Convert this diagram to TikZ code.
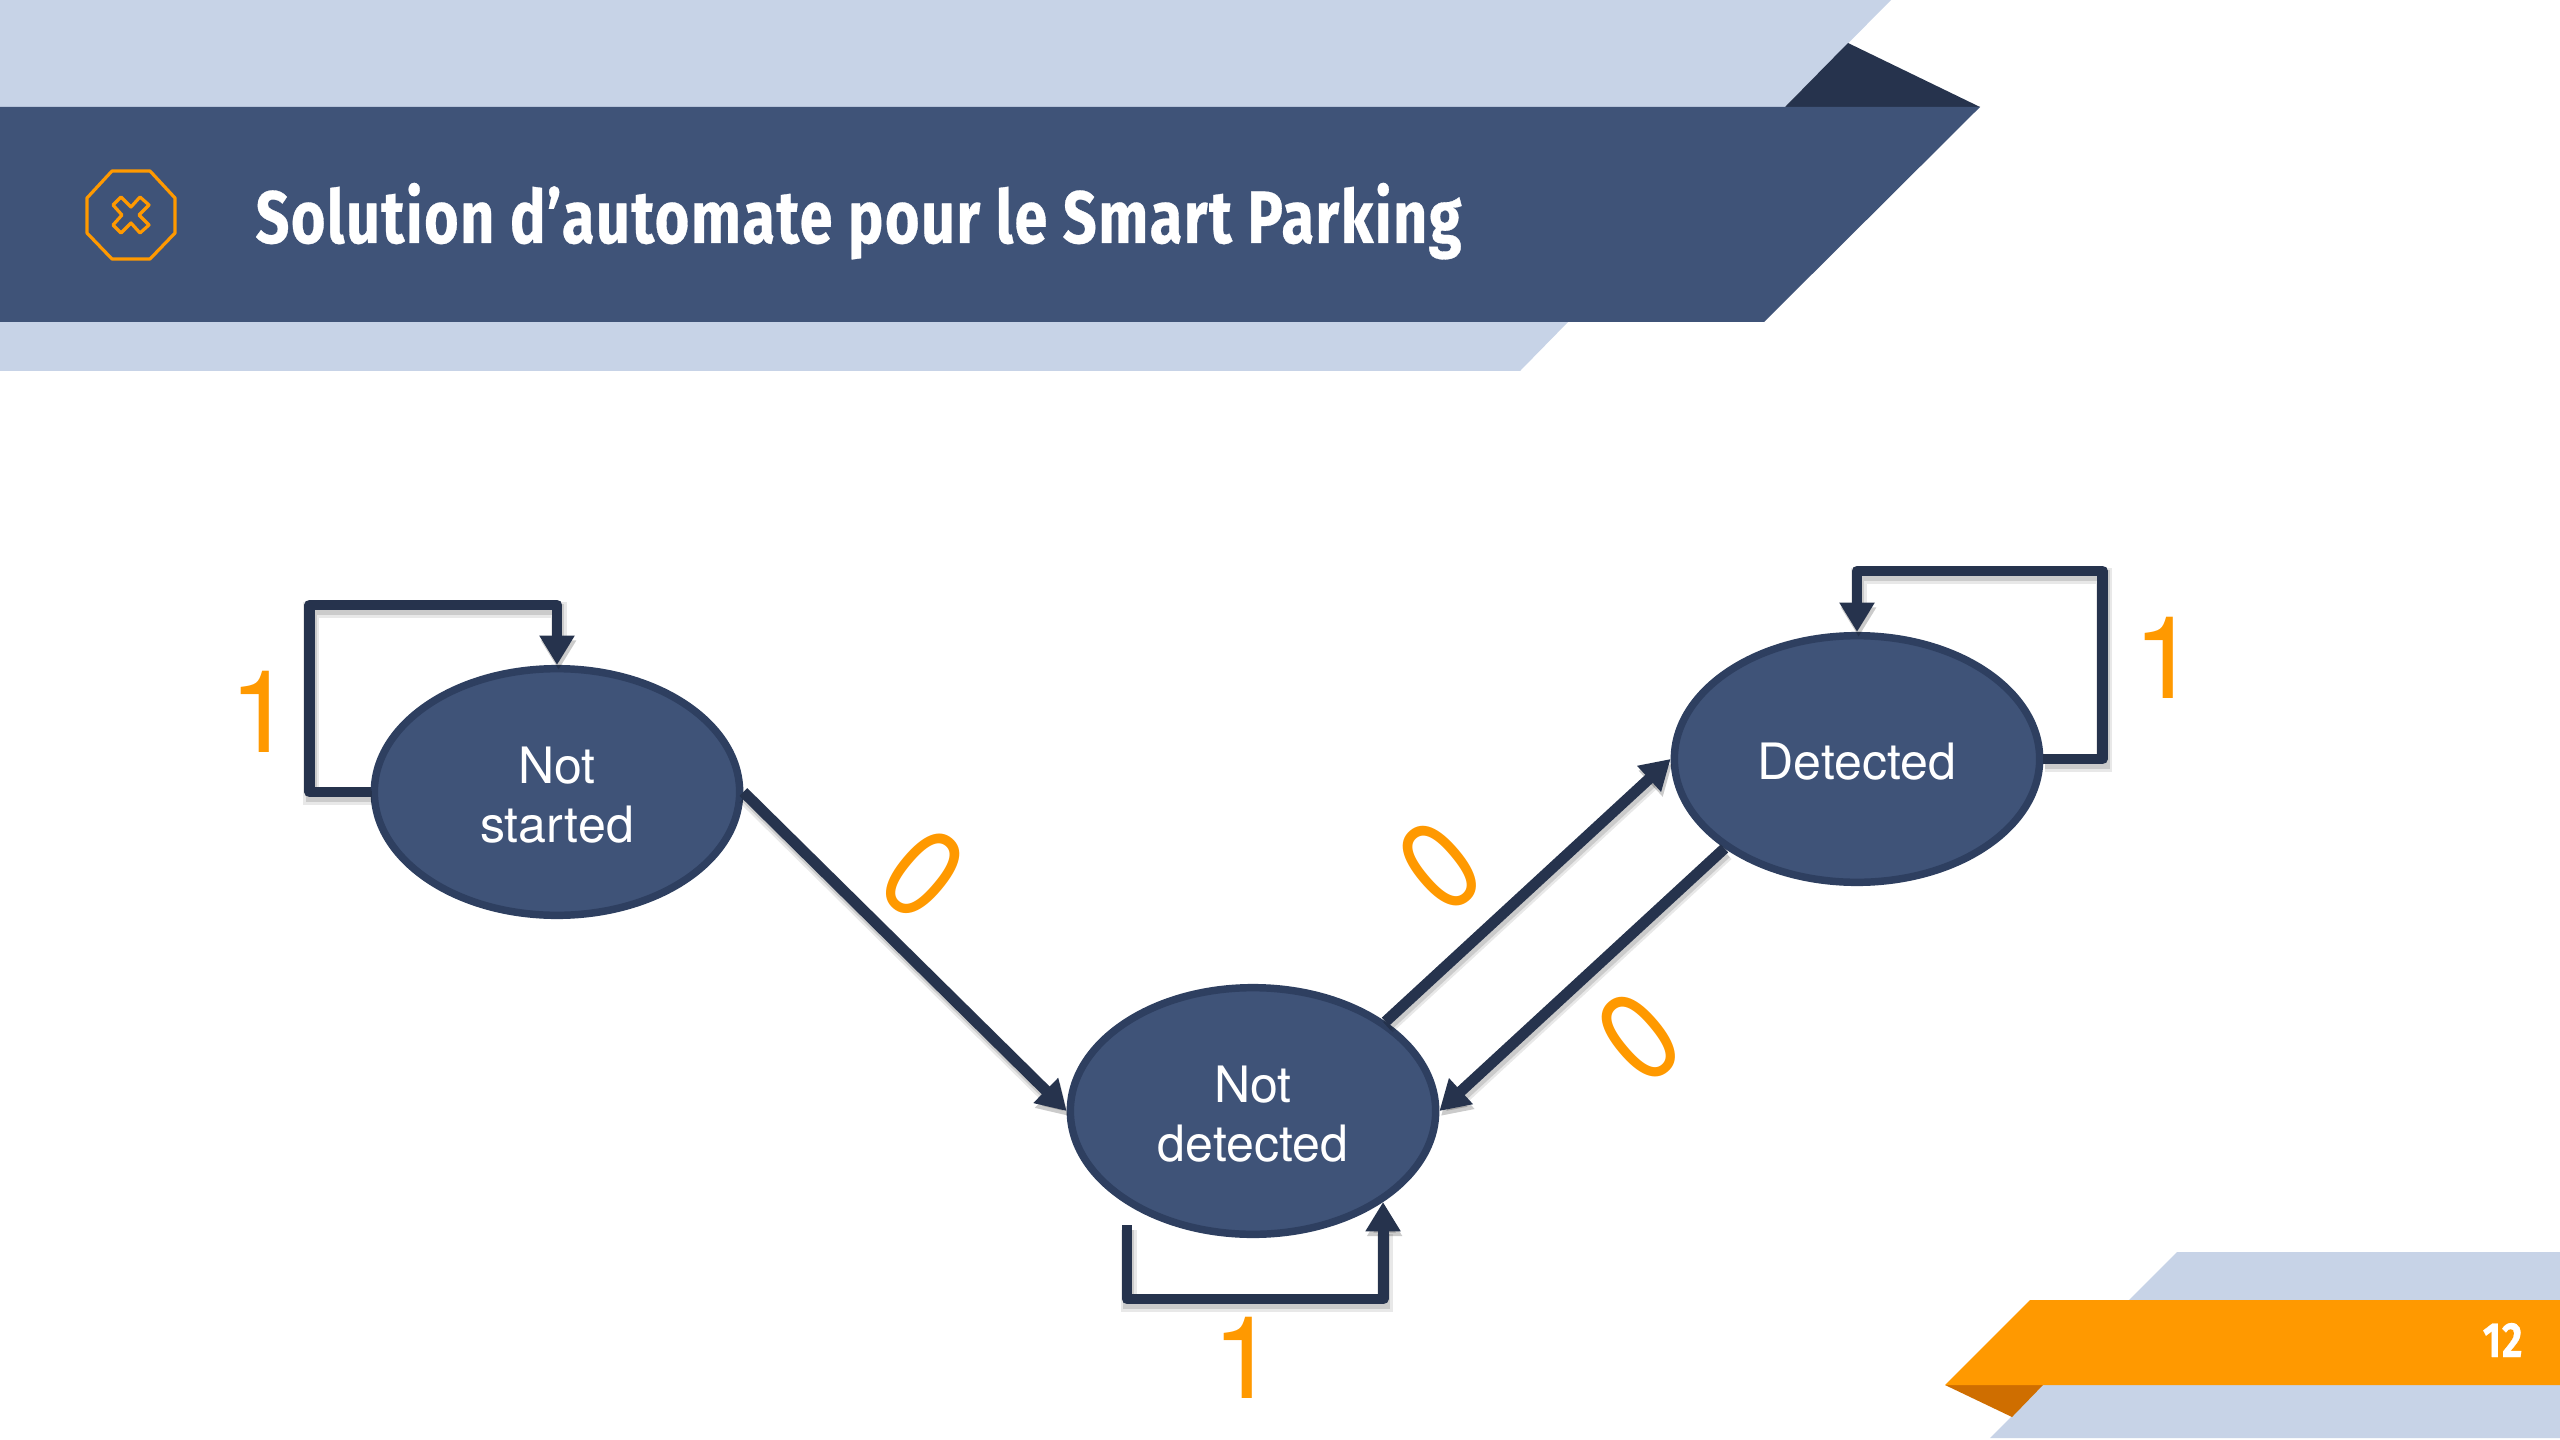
\documentclass[tikz,border=0pt]{standalone}
\usepackage{fontspec}
\usetikzlibrary{arrows.meta,shapes.geometric}
\setmainfont{TeX Gyre Heros}
\newfontfamily\titlefont[FakeStretch=0.80,LetterSpace=2.0,FakeBold=0.4]{Fira Sans}
\definecolor{bandblue}{HTML}{3F5378}
\definecolor{lightblue}{HTML}{C7D3E7}
\definecolor{darkblue}{HTML}{26334D}
\definecolor{edgeblue}{HTML}{2E3F60}
\definecolor{orangeA}{HTML}{FF9900}
\definecolor{orangeB}{HTML}{CF6E00}
\tikzset{
  x=0.375pt,y=-0.375pt,
  stateN/.style={ellipse,draw=edgeblue,fill=bandblue,line width=2.8pt,minimum width=137pt,minimum height=92.5pt,inner sep=0pt,text=white,align=center,font=\fontsize{18.8}{22}\selectfont},
  conn/.style={draw=darkblue,line width=4.1pt,line join=round,-{Triangle[length=11pt,width=12.5pt]},
    preaction={draw=black,draw opacity=.09,fill opacity=.09,line width=6pt,transform canvas={xshift=.6pt,yshift=-1.8pt}},
    preaction={draw=black,draw opacity=.12,fill opacity=.12,line width=4.1pt,transform canvas={xshift=.6pt,yshift=-1.8pt}}},
  bit/.style={text=orangeA,inner sep=0pt,font=\fontsize{43}{43}\selectfont},
  iconline/.style={draw=orangeA,line width=1.2pt,line join=round},
}
\begin{document}
\begin{tikzpicture}
\useasboundingbox[fill=white] (0,0) rectangle (2560,1440);
% header
\fill[lightblue] (0,0) -- (1891,0) -- (1785,107) -- (1763,322) -- (1568,322) -- (1520,371) -- (0,371) -- cycle;
\fill[darkblue] (1848,43) -- (1980,107) -- (1785,107) -- cycle;
\fill[bandblue] (0,107) -- (1980,107) -- (1764,322) -- (0,322) -- cycle;
% icon
\draw[iconline] (112,171) -- (150,171) -- (175,198) -- (175,233) -- (150,259) -- (112,259) -- (87,233) -- (87,198) -- cycle;
\draw[iconline] (121,197) -- (131,207) -- (140,197) -- (149,205) -- (139,215) -- (149,225) -- (140,233) -- (131,223) -- (121,233) -- (113,225) -- (122,215) -- (113,205) -- cycle;
\node[anchor=base west,inner sep=0pt,text=white,font=\titlefont\bfseries\fontsize{27.8}{32}\selectfont] (title) at (255,243) {Solution d’automate pour le Smart Parking};
% footer
\fill[lightblue] (2177,1252) -- (2560,1252) -- (2560,1300) -- (2129,1300) -- cycle;
\fill[lightblue] (2043,1385) -- (2560,1385) -- (2560,1438) -- (1990,1438) -- cycle;
\fill[orangeB] (1945,1385) -- (2043,1385) -- (2012,1417) -- cycle;
\fill[orangeA] (2030,1300) -- (2560,1300) -- (2560,1385) -- (1945,1385) -- cycle;
\node[anchor=base east,inner sep=0pt,text=white,font=\titlefont\bfseries\fontsize{18.5}{18}\selectfont] (page) at (2523,1357) {12};
% states
\node[stateN] (ns) at (557,792) {\rule{0pt}{16pt}Not\\started};
\node[stateN] (nd) at (1253,1111) {\rule{0pt}{16pt}Not\\detected};
\node[stateN] (de) at (1857,759) {\rule{0pt}{15.5pt}Detected};
% free end
\coordinate (ndstart) at (1127,1225);
% connectors
\draw[conn] (ns.west) -- ++(-61,0) |- (430,605) -| (ns.north);
\draw[conn] (ns.east) -- (nd.west);
\draw[conn] (nd.34.4) -- (de.west);
\draw[conn] (de.214) -- (nd.east);
\draw[conn] (de.east) -- ++(59,0) |- (2000,571) -| (de.north);
\draw[conn] (ndstart) |- (1250,1299) -| (nd.325);
% labels
\node[bit] (b1) at (261,712) {1};
\node[bit] (b2) at (2165,658) {1};
\node[bit] (b3) at (1244,1358) {1};
\node[bit,rotate=-40] (z1) at (923,874) {\scalebox{.93}[1.1]{0}};
\node[bit,rotate=40] (z2) at (1440,866) {\scalebox{.93}[1.1]{0}};
\node[bit,rotate=40] (z3) at (1639,1037) {\scalebox{.93}[1.1]{0}};
\end{tikzpicture}
\end{document}
